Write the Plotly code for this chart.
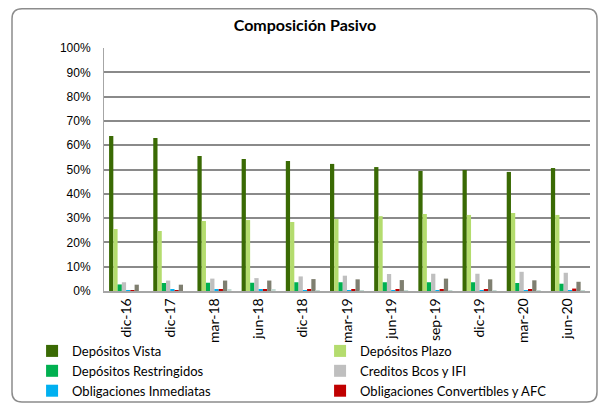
import plotly.graph_objects as go

periodos = ['dic-16', 'dic-17', 'mar-18', 'jun-18', 'dic-18', 'mar-19',
            'jun-19', 'sep-19', 'dic-19', 'mar-20', 'jun-20']

depositos_vista = [63.8, 63.0, 55.6, 54.3, 53.5, 52.3, 51.0, 49.4, 49.8, 49.0, 50.6]
depositos_plazo = [25.5, 24.7, 28.8, 29.2, 28.4, 29.6, 30.8, 31.7, 31.3, 32.1, 31.3]
depositos_restringidos = [2.7, 3.3, 3.4, 3.4, 3.6, 3.6, 3.6, 3.6, 3.6, 3.3, 3.0]
creditos_bcos_ifi = [3.6, 4.3, 5.1, 5.3, 6.0, 6.3, 7.0, 7.1, 7.1, 7.9, 7.5]
obligaciones_inmediatas = [0.2, 0.5, 0.5, 0.5, 0.4, 0.3, 0.3, 0.3, 0.3, 0.3, 0.3]
obligaciones_convertibles = [0.3, 0.3, 0.6, 0.6, 0.6, 0.7, 0.8, 0.8, 0.8, 0.8, 1.0]
otros_pasivos = [2.6, 2.6, 4.3, 4.3, 4.9, 4.8, 4.5, 5.1, 4.8, 4.4, 3.8]
otros = [0.0, 0.0, 0.5, 0.5, 0.4, 0.4, 0.4, 0.4, 0.4, 0.4, 0.4]

series = [
    ('Depósitos Vista', depositos_vista, '#3A6A04', True),
    ('Depósitos Plazo', depositos_plazo, '#B4DC6E', True),
    ('Depósitos Restringidos', depositos_restringidos, '#00B050', True),
    ('Creditos Bcos y IFI', creditos_bcos_ifi, '#BFBFBF', True),
    ('Obligaciones Inmediatas', obligaciones_inmediatas, '#00B0F0', True),
    ('Obligaciones Convertibles y AFC', obligaciones_convertibles, '#C00000', True),
    ('Otros pasivos', otros_pasivos, '#7F7F70', False),
    ('Otros', otros, '#C4DCD4', False),
]

fig = go.Figure()
for name, vals, color, show in series:
    fig.add_trace(go.Bar(
        x=periodos,
        y=[v / 100 for v in vals],
        name=name,
        marker_color=color,
        marker_line_width=0,
        showlegend=show,
    ))

# the page body adds an 8px offset, so the figure is 8px smaller
W, H = 601, 397
L, R, T, B = 96, 19, 40, 114
pw, ph = W - L - R, H - T - B


def P(x, y):
    return f'{(x - L) / pw:.4f},{(H - B - y) / ph:.4f}'


# rounded outer frame
x0, y0, x1, y1, r = 4, 0.8, 589, 394, 10
path = (f'M {P(x0 + r, y0)} L {P(x1 - r, y0)} Q {P(x1, y0)} {P(x1, y0 + r)} '
        f'L {P(x1, y1 - r)} Q {P(x1, y1)} {P(x1 - r, y1)} '
        f'L {P(x0 + r, y1)} Q {P(x0, y1)} {P(x0, y1 - r)} '
        f'L {P(x0, y0 + r)} Q {P(x0, y0)} {P(x0 + r, y0)} Z')
fig.add_shape(type='path', path=path, xref='paper', yref='paper',
              line=dict(color='#8C8C8C', width=1.5), layer='below')

fig.update_layout(
    width=W, height=H,
    margin=dict(l=L, r=R, t=T, b=B, autoexpand=False),
    paper_bgcolor='white',
    plot_bgcolor='white',
    barmode='group',
    bargap=0.23,
    bargroupgap=0,
    title=dict(text='<b>Composición Pasivo</b>', x=297 / W, xanchor='center',
               y=1 - 17 / H, yanchor='middle',
               font=dict(family='Lato', size=16, color='black')),
    font=dict(family='Lato', size=13, color='black'),
    xaxis=dict(
        tickangle=-90,
        tickfont=dict(family='Lato', size=14),
        showline=True, linecolor='#A6A6A6', linewidth=1.5,
        ticks='', showgrid=False,
    ),
    yaxis=dict(
        range=[0, 1], dtick=0.1, tickformat='.0%',
        tickfont=dict(family='Liberation Sans', size=12),
        ticklabelstandoff=10,
        showgrid=True, gridcolor='#8A8A8A', gridwidth=1.8,
        showline=True, linecolor='#A6A6A6', linewidth=1,
        zeroline=False, ticks='', ticklen=0,
    ),
    legend=dict(
        orientation='h',
        x=-0.148, xanchor='left',
        y=-0.185, yanchor='top',
        entrywidth=243, entrywidthmode='pixels',
        font=dict(family='Lato', size=13),
        itemsizing='constant',
        tracegroupgap=0,
        bgcolor='rgba(0,0,0,0)',
    ),
)

fig.write_html('out.html')
